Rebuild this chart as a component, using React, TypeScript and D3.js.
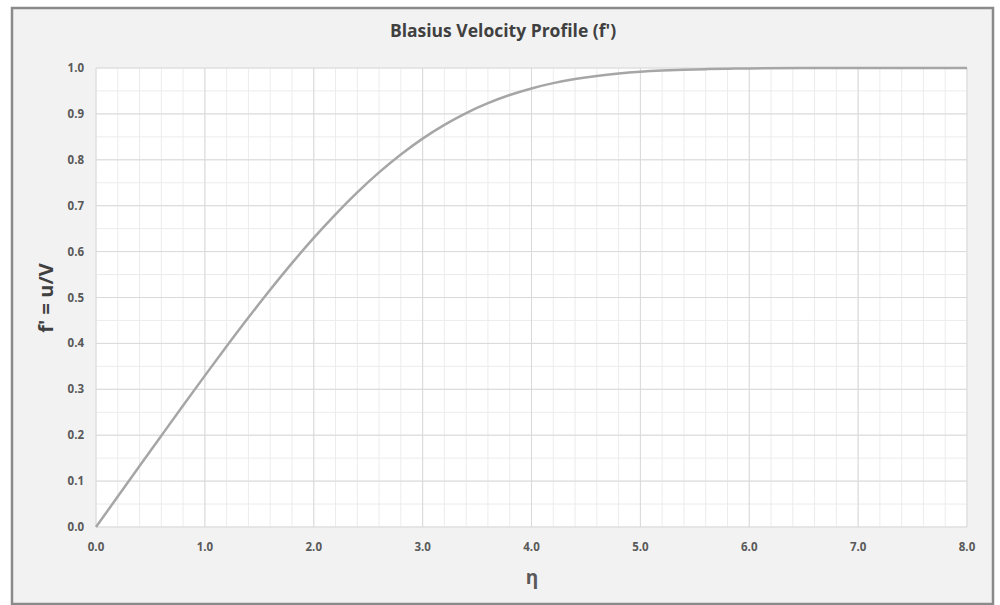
import React from "react";
import * as d3 from "d3";

const etaValues = [0, 0.2, 0.4, 0.6, 0.8, 1.0, 1.2, 1.4, 1.6, 1.8, 2.0, 2.2, 2.4, 2.6, 2.8, 3.0, 3.2, 3.4, 3.6, 3.8, 4.0, 4.2, 4.4, 4.6, 4.8, 5.0, 5.2, 5.4, 5.6, 5.8, 6.0, 6.5, 7.0, 7.5, 8.0];
const fPrimeValues = [0, 0.0664, 0.1328, 0.1989, 0.2647, 0.3298, 0.3938, 0.4563, 0.5168, 0.5748, 0.6298, 0.6813, 0.729, 0.7725, 0.8115, 0.8461, 0.8761, 0.9018, 0.9233, 0.9411, 0.9555, 0.967, 0.9759, 0.9827, 0.9878, 0.9916, 0.9943, 0.9962, 0.9975, 0.9984, 0.999, 0.9998, 1.0, 1.0, 1.0];
const xTicks = [0, 1, 2, 3, 4, 5, 6, 7, 8];
const yTicks = [0, 0.1, 0.2, 0.3, 0.4, 0.5, 0.6, 0.7, 0.8, 0.9, 1.0];
const title = "Blasius Velocity Profile (f')";
const xLabel = "η";
const yLabel = "f' = u/V";

export default function App() {
  const W = 1000, H = 605;
  const left = 96, right = 967, top = 68, bottom = 527;
  const x = d3.scaleLinear().domain([0, 8]).range([left, right]);
  const y = d3.scaleLinear().domain([0, 1]).range([bottom, top]);
  const xMinor = d3.range(0, 8.0001, 0.2);
  const yMinor = d3.range(0, 1.0001, 0.05);
  const line = d3.line<number>().x((_, i) => x(etaValues[i])).y((d) => y(d)).curve(d3.curveMonotoneX);
  const font = "'Open Sans', 'DejaVu Sans', sans-serif";
  return (
    <svg width={W} height={H} style={{ position: "absolute", left: 0, top: 0 }} fontFamily={font}>
      <rect x={12} y={8} width={981} height={596} fill="#f2f2f2" stroke="#8a8a8a" strokeWidth={2.5} />
      <rect x={left} y={top} width={right - left} height={bottom - top} fill="#ffffff" />
      {xMinor.map((v, i) => (
        <line key={"xm" + i} x1={x(v)} x2={x(v)} y1={top} y2={bottom} stroke="#ececec" strokeWidth={1} />
      ))}
      {yMinor.map((v, i) => (
        <line key={"ym" + i} x1={left} x2={right} y1={y(v)} y2={y(v)} stroke="#ececec" strokeWidth={1} />
      ))}
      {xTicks.map((v) => (
        <line key={"xg" + v} x1={x(v)} x2={x(v)} y1={top} y2={bottom} stroke="#d9d9d9" strokeWidth={1} />
      ))}
      {yTicks.map((v) => (
        <line key={"yg" + v} x1={left} x2={right} y1={y(v)} y2={y(v)} stroke="#d9d9d9" strokeWidth={1} />
      ))}
      <path d={line(fPrimeValues) || ""} fill="none" stroke="#a6a6a6" strokeWidth={2.5} />
      {yTicks.map((v) => (
        <text key={"yt" + v} x={84} y={y(v)} dy="0.35em" textAnchor="end" fontSize={11.5} fontWeight="bold" fill="#595959">
          {v.toFixed(1)}
        </text>
      ))}
      {xTicks.map((v) => (
        <text key={"xt" + v} x={x(v)} y={547} dy="0.35em" textAnchor="middle" fontSize={11.5} fontWeight="bold" fill="#595959">
          {v.toFixed(1)}
        </text>
      ))}
      <text x={503} y={31} dy="0.35em" textAnchor="middle" fontSize={17.5} fontWeight="bold" fill="#404040">
        {title}
      </text>
      <text x={532} y={577} dy="0.35em" textAnchor="middle" fontSize={19} fontWeight="bold" fill="#595959">
        {xLabel}
      </text>
      <text transform={`translate(46,298) rotate(-90)`} dy="0.35em" textAnchor="middle" fontSize={20} fontWeight="bold" fill="#404040">
        {yLabel}
      </text>
    </svg>
  );
}
